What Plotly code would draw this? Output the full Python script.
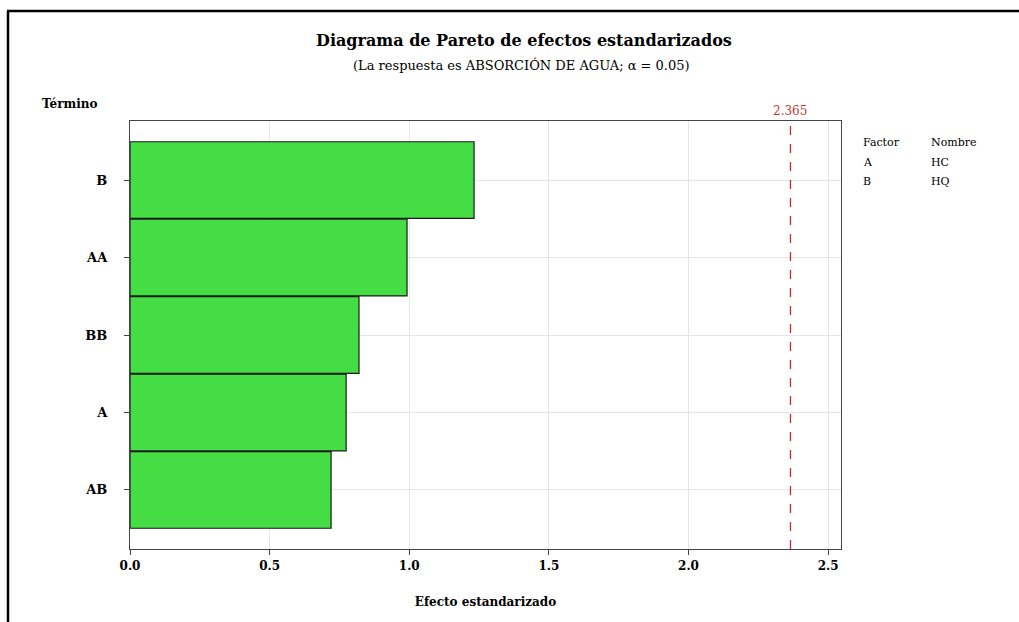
import plotly.graph_objects as go

# Standardized effects (absolute t-values) for each term
terms = ["B", "AA", "BB", "A", "AB"]
effects = [1.232, 0.992, 0.820, 0.774, 0.720]
critical_t = 2.365

factor_codes = ["A", "B"]
factor_names = ["HC", "HQ"]

W, H = 1019, 622
L, R, T, B = 130, 178, 121, 73
pw, ph = W - L - R, H - T - B


def px(x):
    return (x - L) / pw


def py(y):
    return (H - B - y) / ph


SERIF = "DejaVu Serif"

fig = go.Figure()
fig.add_trace(go.Bar(
    x=effects, y=terms, orientation="h",
    width=0.99,
    marker=dict(color="#44DD44", line=dict(color="#1a1a1a", width=1.2)),
    showlegend=False,
))

fig.update_layout(
    width=W, height=H,
    margin=dict(l=L, r=R, t=T, b=B),
    paper_bgcolor="white", plot_bgcolor="white",
    font=dict(family=SERIF, color="black"),
    xaxis=dict(
        range=[0, 2.546], dtick=0.5, tickformat=".1f",
        showgrid=True, gridcolor="#e6e6e6", gridwidth=1,
        zeroline=False,
        showline=True, linecolor="#444", linewidth=1.3, mirror=True,
        ticks="outside", ticklen=5, tickcolor="#444",
        tickfont=dict(family=SERIF, size=12, weight="bold"),
        title=dict(text="Efecto estandarizado",
                   font=dict(family=SERIF, size=12, weight="bold"),
                   standoff=26),
    ),
    yaxis=dict(
        categoryorder="array", categoryarray=terms,
        range=[4.763, -0.763],
        showgrid=True, gridcolor="#e6e6e6", gridwidth=1,
        zeroline=False,
        showline=True, linecolor="#444", linewidth=1.3, mirror=True,
        ticks="outside", ticklen=5, tickcolor="#444",
        tickfont=dict(family=SERIF, size=13, weight="bold"),
        ticklabelstandoff=14,
    ),
)

# Critical value reference line
fig.add_shape(type="line", xref="x", yref="paper",
              x0=critical_t, x1=critical_t, y0=0, y1=1,
              line=dict(color="#d62728", width=1.3, dash="dash"))

annotations = [
    dict(text=f"{critical_t:.3f}", x=critical_t, xref="x", y=1.0, yref="paper",
         xanchor="center", yanchor="bottom", yshift=1,
         font=dict(family=SERIF, size=12, color="#c0392b")),
    dict(text="<b>Diagrama de Pareto de efectos estandarizados</b>",
         x=px(524), y=py(41), font=dict(family=SERIF, size=16)),
    dict(text="(La respuesta es ABSORCIÓN DE AGUA; α = 0.05)",
         x=px(521), y=py(65), font=dict(family=SERIF, size=13)),
    dict(text="<b>Término</b>", x=px(40), y=py(104), xanchor="left",
         font=dict(family=SERIF, size=12)),
    dict(text="Factor", x=px(861), y=py(143), xanchor="left",
         font=dict(family=SERIF, size=11)),
    dict(text="Nombre", x=px(929), y=py(143), xanchor="left",
         font=dict(family=SERIF, size=11)),
]
for i, (code, name) in enumerate(zip(factor_codes, factor_names)):
    yy = 162 + i * 19
    annotations.append(dict(text=code, x=px(861), y=py(yy), xanchor="left",
                            font=dict(family=SERIF, size=11)))
    annotations.append(dict(text=name, x=px(929), y=py(yy), xanchor="left",
                            font=dict(family=SERIF, size=11)))
for a in annotations:
    a.setdefault("xref", "paper")
    a.setdefault("yref", "paper")
    a.setdefault("xanchor", "center")
    a.setdefault("yanchor", "middle")
    a["showarrow"] = False
fig.update_layout(annotations=annotations)

# Outer window frame (top and left edges)
fig.add_shape(type="line", xref="paper", yref="paper",
              x0=px(7), x1=px(1019), y0=py(11), y1=py(11),
              line=dict(color="black", width=2.5))
fig.add_shape(type="line", xref="paper", yref="paper",
              x0=px(8), x1=px(8), y0=py(11), y1=py(622),
              line=dict(color="black", width=2.5))

fig.write_html("out.html")
